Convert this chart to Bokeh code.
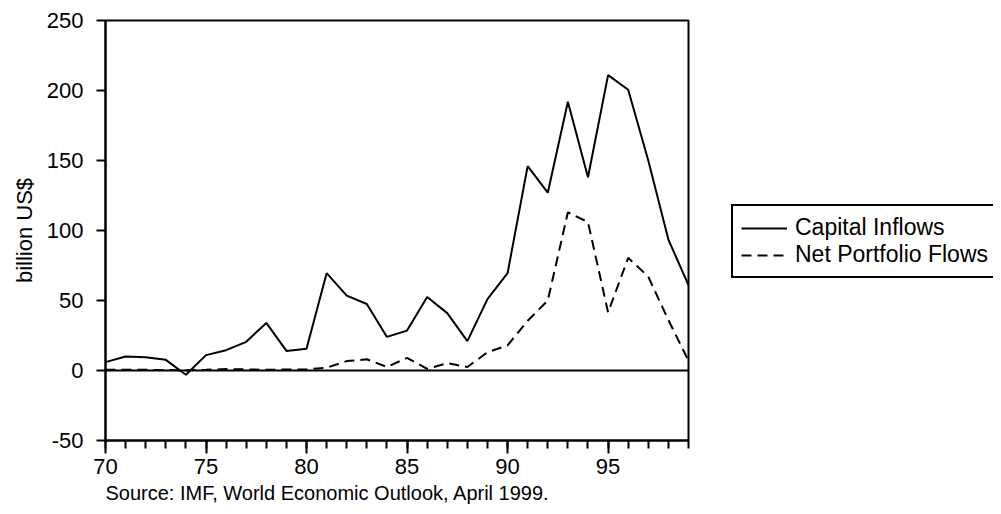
from bokeh.plotting import figure
from bokeh.models import Range1d, FixedTicker, Span, Legend, LegendItem, Title
from bokeh.layouts import row
from bokeh.embed import file_html
from bokeh.resources import INLINE

# ---- data ----
years = list(range(70, 100))
capital_inflows = [6, 10, 9.5, 7.6, -3, 11, 14.5, 20.5, 34, 14,
                   15.5, 69.5, 53.5, 47.5, 24, 28.5, 52.5, 41, 21, 51,
                   69.5, 146, 127, 192, 138, 211, 200.5, 150, 93.5, 61]
net_portfolio = [0.5, 0.5, 0.5, 0.3, 0.2, 0.5, 1.0, 0.8, 0.5, 0.7,
                 0.8, 2, 6.7, 8, 2.5, 9, 1.2, 5.2, 2.5, 13,
                 18, 35.5, 50, 113, 106, 41.5, 80.5, 67, 36, 7]
x_ticks = [70, 75, 80, 85, 90, 95]
x_tick_labels = ["70", "75", "80", "85", "90", "95"]
y_ticks = [-50, 0, 50, 100, 150, 200, 250]
y_tick_labels = ["-50", "0", "50", "100", "150", "200", "250"]
series_names = ["Capital Inflows", "Net Portfolio Flows"]
source_text = "Source:  IMF, World Economic Outlook, April 1999."
y_label = "billion US$"

FONT = "Liberation Sans"
SOLID = dict(line_color="black", line_width=2)
DASHED = dict(line_color="black", line_width=2, line_dash="10 6")

p = figure(width=690, height=506, output_backend="svg", toolbar_location=None,
           x_range=Range1d(70, 99), y_range=Range1d(-50, 250),
           min_border_left=105, min_border_right=2, min_border_top=20,
           min_border_bottom=66)
p.background_fill_color = "white"
p.border_fill_color = "white"
p.outline_line_color = "black"
p.outline_line_width = 2
p.grid.visible = False

# x axis
xa = p.xaxis[0]
xa.ticker = FixedTicker(ticks=x_ticks, minor_ticks=years)
xa.major_label_overrides = {t: l for t, l in zip(x_ticks, x_tick_labels)}
xa.axis_line_width = 2
xa.major_tick_line_width = 2
xa.minor_tick_line_width = 2
xa.major_tick_out = 13
xa.major_tick_in = 0
xa.minor_tick_out = 8
xa.minor_tick_in = 0
xa.major_label_standoff = 5
xa.major_label_text_font = FONT
xa.major_label_text_font_size = "22px"
xa.major_label_text_color = "black"

# y axis
ya = p.yaxis[0]
ya.ticker = FixedTicker(ticks=y_ticks, minor_ticks=[])
ya.major_label_overrides = {t: l for t, l in zip(y_ticks, y_tick_labels)}
ya.axis_line_width = 2
ya.major_tick_line_width = 2
ya.major_tick_out = 9
ya.major_tick_in = 0
ya.minor_tick_line_color = None
ya.major_label_standoff = 13
ya.major_label_text_font = FONT
ya.major_label_text_font_size = "22px"
ya.major_label_text_color = "black"
ya.axis_label = y_label
ya.axis_label_text_font = FONT
ya.axis_label_text_font_size = "22px"
ya.axis_label_text_font_style = "normal"
ya.axis_label_text_color = "black"
ya.axis_label_standoff = 7

# zero line
p.add_layout(Span(location=0, dimension="width", line_color="black", line_width=1.8))

r1 = p.line(years, capital_inflows, **SOLID)
r2 = p.line(years, net_portfolio, **DASHED)

p.add_layout(Title(text=source_text, align="left", text_font=FONT,
                   text_font_size="20px", text_font_style="normal",
                   text_color="black", standoff=6), "below")

# side panel holding the legend (its own ranges keep the series out of view)
p2 = figure(width=303, height=506, output_backend="svg", toolbar_location=None,
            x_range=Range1d(0, 1), y_range=Range1d(0, 1), min_border=0)
p2.axis.visible = False
p2.grid.visible = False
p2.outline_line_color = None
p2.background_fill_color = "white"
p2.border_fill_color = "white"
k1 = p2.line(years, capital_inflows, **SOLID)
k2 = p2.line(years, net_portfolio, **DASHED)

legend = Legend(items=[LegendItem(label=series_names[0], renderers=[k1]),
                       LegendItem(label=series_names[1], renderers=[k2])],
                location=(41, 162))
legend.label_text_font = FONT
legend.label_text_font_size = "23px"
legend.label_text_color = "black"
legend.glyph_width = 46
legend.glyph_height = 20
legend.label_standoff = 8
legend.padding = 8
legend.spacing = 0
legend.margin = 0
legend.border_line_color = "black"
legend.border_line_width = 2
legend.border_line_alpha = 1.0
legend.background_fill_color = "white"
legend.background_fill_alpha = 1.0
p2.add_layout(legend, "center")

layout = row(p, p2)
open("out.html", "w").write(file_html(layout, INLINE))
